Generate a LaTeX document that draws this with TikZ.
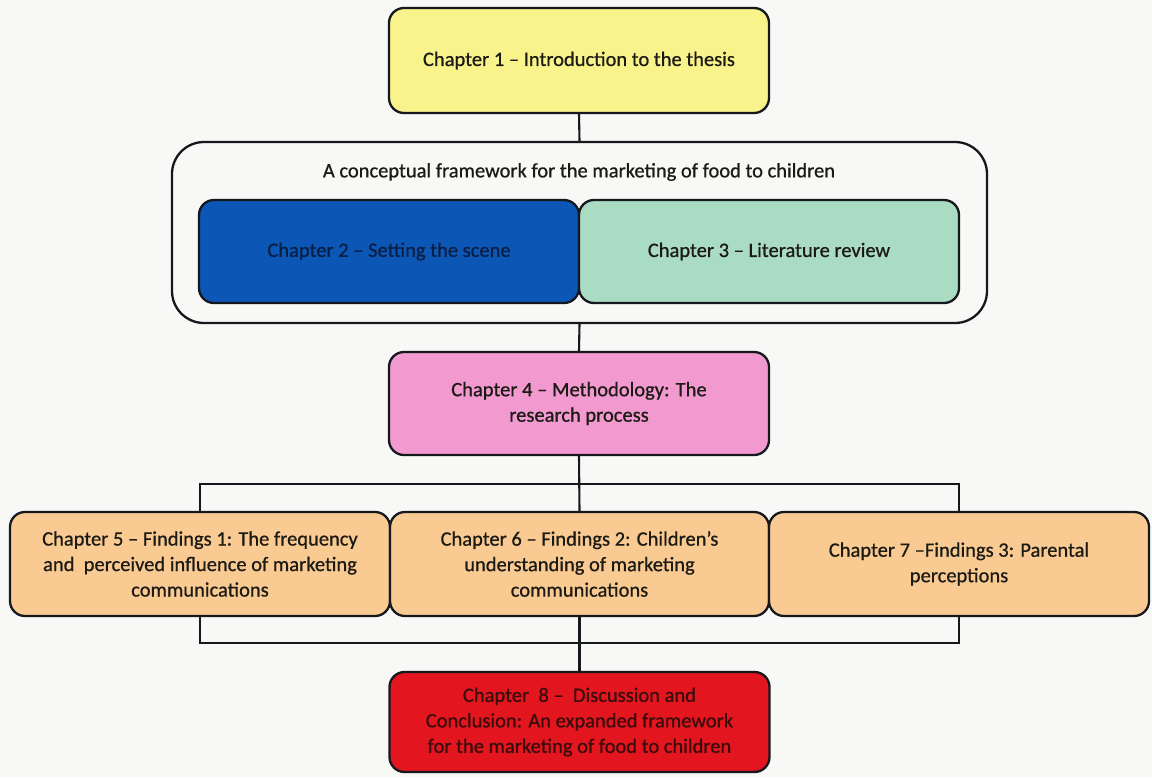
\documentclass[tikz,border=0pt]{standalone}
\usepackage{fontspec}
\setmainfont[FakeBold=0.7]{Carlito}
\definecolor{pagebg}{HTML}{F8F8F7}
\definecolor{edge}{HTML}{15181D}
\definecolor{inktext}{HTML}{1C1A14}
\definecolor{yellowfill}{HTML}{F9F38C}
\definecolor{bluefill}{HTML}{0C57B6}
\definecolor{bluetext}{HTML}{0B1E44}
\definecolor{greenfill}{HTML}{A9DCC2}
\definecolor{pinkfill}{HTML}{F29ACF}
\definecolor{orangefill}{HTML}{F9CA92}
\definecolor{redfill}{HTML}{E3151F}
\definecolor{redtext}{HTML}{3A0C0C}
\tikzset{
  chapbox/.style={draw=edge, line width=2.3pt, rounded corners=15pt,
    minimum width=380pt, minimum height=104pt, inner sep=0pt,
    align=center, text=inktext,
    font=\fontsize{20.5}{25.5}\selectfont},
  framebox/.style={draw=edge, line width=2.3pt, rounded corners=32pt,
    minimum width=815pt, minimum height=181pt, inner sep=0pt},
  link/.style={draw=edge, line width=2.1pt}
}
\begin{document}
\begin{tikzpicture}[x=1pt, y=-1pt]
  % page area
  \fill[pagebg] (0,0) rectangle (1152,777);
  \useasboundingbox (0,0) rectangle (1152,777);

  % introduction
  \node[chapbox, fill=yellowfill, minimum height=105pt] (ch1) at (579,60.5)
    {Chapter 1 -- Introduction to the thesis};

  % conceptual framework group
  \node[framebox] (frame) at (579.5,232.5) {};
  \node[font=\fontsize{20.5}{25.5}\selectfont, text=inktext] (frametitle) at (579,172)
    {A conceptual framework for the marketing of food to children};
  \node[chapbox, fill=bluefill, text=bluetext, minimum height=103pt] (ch2) at (389,251.5)
    {Chapter 2 -- Setting the scene};
  \node[chapbox, fill=greenfill, minimum height=103pt] (ch3) at (769,251.5)
    {Chapter 3 -- Literature review};

  % methodology
  \node[chapbox, fill=pinkfill, minimum height=103pt] (ch4) at (579,403.5)
    {Chapter 4 -- Methodology: The\\research process};

  % findings chapters
  \node[chapbox, fill=orangefill] (ch5) at (200,564)
    {Chapter 5 -- Findings 1: The frequency\\and\ \ perceived influence of marketing\\communications};
  \node[chapbox, fill=orangefill, minimum width=379pt] (ch6) at (579.5,564)
    {Chapter 6 -- Findings 2: Children's\\understanding of marketing\\communications};
  \node[chapbox, fill=orangefill] (ch7) at (959,564)
    {Chapter 7 --Findings 3: Parental\\perceptions};

  % discussion
  \node[chapbox, fill=redfill, text=redtext, minimum height=100pt] (ch8) at (579.5,722)
    {Chapter\ \ 8 --\ \ Discussion and\\Conclusion: An expanded framework\\for the marketing of food to children};

  % bus lines above and below the findings row
  \coordinate (busA) at (579,484);
  \coordinate (busB) at (579,643);

  % connectors
  \draw[link] (ch1.south) -- (frame.north);
  \draw[link] (frame.south) -- (ch4.north);
  \draw[link] (ch4.south) -- (ch6.north);
  \draw[link] (ch5.north) -- (ch5.north |- busA) -- (ch7.north |- busA) -- (ch7.north);
  \draw[link] (ch6.south) -- (ch8.north);
  \draw[link] (ch5.south) -- (ch5.south |- busB) -- (ch7.south |- busB) -- (ch7.south);
\end{tikzpicture}
\end{document}
